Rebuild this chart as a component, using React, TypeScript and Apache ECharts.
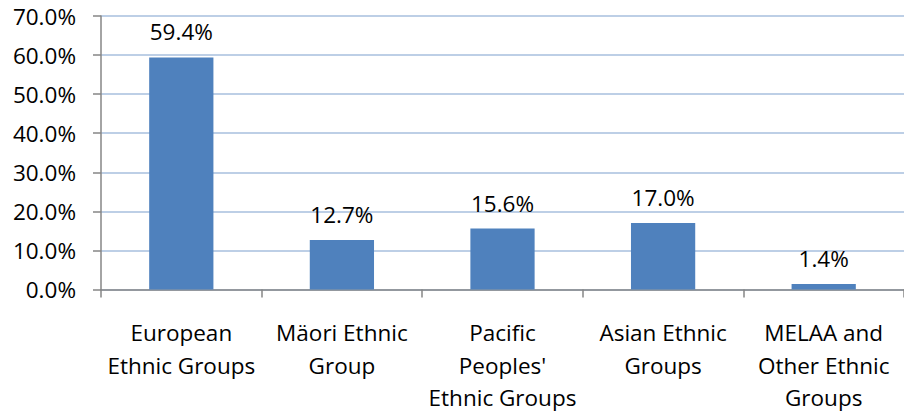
import React, { useEffect, useRef } from "react";
import * as echarts from "echarts";

const categories = [
  "European\nEthnic Groups",
  "Mäori Ethnic\nGroup",
  "Pacific\nPeoples'\nEthnic Groups",
  "Asian Ethnic\nGroups",
  "MELAA and\nOther Ethnic\nGroups",
];
const values = [59.4, 12.7, 15.6, 17.0, 1.4];
const yMin = 0;
const yMax = 70;
const yStep = 10;

const FONT = "Open Sans";
const FS = 22.5;

export default function App() {
  const ref = useRef<HTMLDivElement>(null);
  useEffect(() => {
    if (!ref.current) return;
    const chart = echarts.init(ref.current, undefined, { renderer: "svg" });
    chart.setOption({
      animation: false,
      grid: { left: 101, right: -6, top: 16, bottom: 122, containLabel: false },
      xAxis: {
        type: "category",
        data: categories,
        boundaryGap: true,
        axisLine: { show: true, lineStyle: { color: "#868686", width: 1.5 } },
        axisTick: { show: true, length: 8, lineStyle: { color: "#868686", width: 1.5 } },
        axisLabel: {
          interval: 0,
          margin: 27,
          color: "#000",
          fontFamily: FONT,
          fontSize: FS,
          lineHeight: 32.5,
          align: "center",
        },
      },
      yAxis: {
        type: "value",
        min: yMin,
        max: yMax,
        interval: yStep,
        axisLine: { show: true, lineStyle: { color: "#868686", width: 1.5 } },
        axisTick: { show: true, length: 8, lineStyle: { color: "#868686", width: 1.5 } },
        splitLine: { show: true, lineStyle: { color: "#A7BFDE", width: 1.5 } },
        axisLabel: {
          margin: 25,
          color: "#000",
          fontFamily: FONT,
          fontSize: FS,
          formatter: (v: number) => v.toFixed(1) + "%",
        },
      },
      series: [
        {
          type: "bar",
          data: values,
          barWidth: "40%",
          itemStyle: { color: "#4F81BD" },
          label: {
            show: true,
            position: "top",
            distance: 14,
            color: "#000",
            fontFamily: FONT,
            fontSize: FS,
            formatter: (p: any) => Number(p.value).toFixed(1) + "%",
          },
        },
      ],
    });
    return () => chart.dispose();
  }, []);
  return (
    <div
      ref={ref}
      style={{ position: "absolute", left: 0, top: 0, width: 904, height: 414, background: "#fff" }}
    />
  );
}
